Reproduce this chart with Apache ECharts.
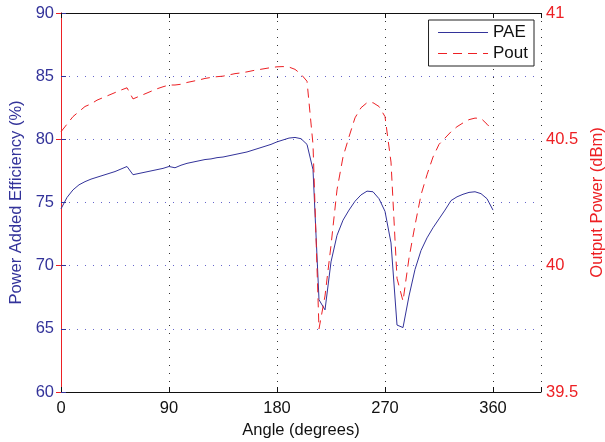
<!DOCTYPE html>
<html>
<head>
<meta charset="utf-8">
<script src="https://cdn.jsdelivr.net/npm/echarts@6/dist/echarts.min.js"></script>
<style>html,body{margin:0;padding:0;background:#fff;}#c{width:605px;height:442px;}</style>
</head>
<body>
<div id="c"></div>
<script>
var angles = [0,5,10,15,20,25,30,35,40,45,50,55,60,65,70,75,80,85,90,95,100,105,110,115,120,125,130,135,140,145,150,155,160,165,170,175,180,185,190,195,200,205,210,215,220,225,230,235,240,245,250,255,260,265,270,275,280,285,290,295,300,305,310,315,320,325,330,335,340,345,350,355,360];
var pae = [74.5,75.4,76.0,76.4,76.65,76.85,77.0,77.15,77.3,77.45,77.65,77.85,77.2,77.3,77.4,77.5,77.6,77.7,77.85,77.75,77.95,78.1,78.2,78.3,78.4,78.45,78.55,78.6,78.7,78.8,78.9,79.0,79.15,79.3,79.45,79.6,79.8,79.95,80.1,80.15,80.05,79.6,77.6,67.3,66.5,70.3,72.4,73.6,74.4,75.1,75.6,75.9,75.85,75.3,74.3,71.8,65.3,65.1,67.6,69.7,71.2,72.2,73.0,73.7,74.4,75.15,75.45,75.65,75.8,75.85,75.7,75.3,74.4];
var pout = [40.53,40.56,40.59,40.61,40.63,40.64,40.655,40.665,40.675,40.685,40.695,40.704,40.66,40.67,40.68,40.69,40.70,40.708,40.715,40.715,40.718,40.725,40.73,40.735,40.741,40.745,40.748,40.75,40.755,40.76,40.763,40.767,40.772,40.776,40.78,40.784,40.787,40.788,40.786,40.777,40.758,40.73,40.48,39.75,39.88,40.08,40.3,40.43,40.51,40.585,40.625,40.645,40.645,40.63,40.59,40.41,39.95,39.86,40.03,40.16,40.28,40.36,40.43,40.48,40.505,40.53,40.55,40.565,40.578,40.584,40.583,40.56,40.535];
var xTicks = [0,90,180,270,360];
var leftTicks = [60,65,70,75,80,85,90];
var rightTicks = [39.5,40,40.5,41];

var BLUE = '#33339a', RED = '#ed2024';
var FONT = 'Liberation Sans, Arial, Helvetica, sans-serif';

var paeData = angles.map(function(a,i){return [a,pae[i]];});
var poutData = angles.map(function(a,i){return [a,pout[i]];});

var chart = echarts.init(document.getElementById('c'), null, {renderer:'canvas'});
chart.setOption({
  animation:false,
  backgroundColor:'#fff',
  grid:{left:61,right:64,top:13,bottom:50,containLabel:false,outerBoundsMode:'none'},
  legend:{
    orient:'vertical', right:71, top:20,
    backgroundColor:'#fff', borderColor:'#222', borderWidth:1,
    padding:[4,6,4,9], itemGap:4, itemWidth:50, itemHeight:16,
    itemStyle:{opacity:0},
    lineStyle:{width:1},
    textStyle:{fontFamily:FONT,fontSize:17,color:'#111'},
    data:['PAE','Pout']
  },
  xAxis:[{
    type:'value', min:0, max:400, interval:90,
    name:'Angle (degrees)', nameLocation:'middle', nameGap:29,
    nameTextStyle:{fontFamily:FONT,fontSize:16.5,color:'#111'},
    axisLine:{show:true,lineStyle:{color:'#111',width:1}},
    axisTick:{show:true,inside:true,length:5,lineStyle:{color:'#111'}},
    axisLabel:{fontFamily:FONT,fontSize:16.5,color:'#111',margin:8,
      formatter:function(v){return xTicks.indexOf(v)>=0?String(v):'';}},
    splitLine:{show:true,lineStyle:{color:'#333',type:[1,7],width:1}}
  },{
    type:'value', position:'top', min:0, max:400, interval:90,
    axisLine:{show:true,lineStyle:{color:'#111',width:1}},
    axisTick:{show:true,inside:true,length:5,lineStyle:{color:'#111'}},
    axisLabel:{show:false}, splitLine:{show:false}
  }],
  yAxis:[{
    type:'value', min:60, max:90, interval:5, position:'left',
    name:'Power Added Efficiency (%)', nameLocation:'middle', nameGap:34,
    nameTextStyle:{fontFamily:FONT,fontSize:16.5,color:BLUE},
    axisLine:{show:true,lineStyle:{color:BLUE,width:1}},
    axisTick:{show:true,inside:true,length:5,lineStyle:{color:BLUE}},
    axisLabel:{fontFamily:FONT,fontSize:16.5,color:BLUE,margin:7,
      formatter:function(v){return leftTicks.indexOf(v)>=0?String(v):'';}},
    splitLine:{show:true,lineStyle:{color:'#6666cc',type:[1,7],width:1}}
  },{
    type:'value', min:39.5, max:41, interval:0.5, position:'right',
    name:'Output Power (dBm)', nameLocation:'middle', nameGap:47,
    nameTextStyle:{fontFamily:FONT,fontSize:16.5,color:RED},
    axisLine:{show:true,lineStyle:{color:RED,width:1}},
    axisTick:{show:true,inside:true,length:5,lineStyle:{color:RED}},
    axisLabel:{fontFamily:FONT,fontSize:16.5,color:RED,margin:5,
      formatter:function(v){return rightTicks.indexOf(v)>=0?String(v):'';}},
    splitLine:{show:false}
  }],
  series:[{
    name:'PAE', type:'line', xAxisIndex:0, yAxisIndex:0, data:paeData,
    symbol:'none', smooth:false, color:BLUE,
    lineStyle:{color:BLUE,width:1}
  },{
    name:'Pout', type:'line', xAxisIndex:0, yAxisIndex:1, data:poutData,
    symbol:'none', smooth:false, color:RED,
    lineStyle:{color:RED,width:1,type:[9,6]}
  }]
});
</script>
</body>
</html>
